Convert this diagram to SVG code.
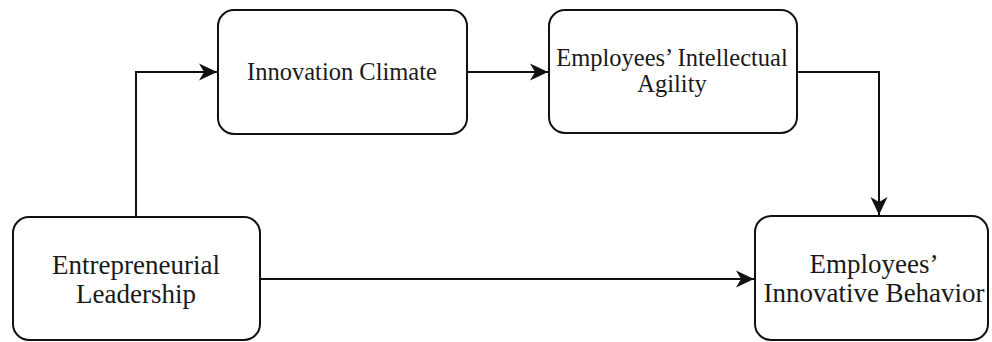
<svg xmlns="http://www.w3.org/2000/svg" width="992" height="342" viewBox="0 0 992 342">
<defs>
<style>
.box{fill:#fff;stroke:#111;stroke-width:2}
.t{font-family:'Liberation Serif','DejaVu Serif',serif;fill:#1a1a1a;text-anchor:middle}
.s24{font-size:24.5px}
.s27{font-size:27px}
.c{fill:none;stroke:#111;stroke-width:2}
</style>
<marker id="ah" viewBox="0 0 18 18" refX="18" refY="9" markerWidth="18" markerHeight="18" markerUnits="userSpaceOnUse" orient="auto">
<path d="M0,0.5 L18,9 L0,17.5 L5,9 Z" fill="#111"/>
</marker>
</defs>
<rect width="992" height="342" fill="#fff"/>
<g id="connectors">
<path class="c" d="M136,217 V72 H217" marker-end="url(#ah)"/>
<path class="c" d="M467,72 H548" marker-end="url(#ah)"/>
<path class="c" d="M797,72 H879 V215" marker-end="url(#ah)"/>
<path class="c" d="M260,279 H754" marker-end="url(#ah)"/>
</g>
<g id="entrepreneurial-leadership">
<rect class="box" x="13" y="217" width="247" height="123" rx="16"/>
<text class="t s27" x="136" y="274">Entrepreneurial</text>
<text class="t s27" x="136" y="303">Leadership</text>
</g>
<g id="innovation-climate">
<rect class="box" x="218" y="10" width="249" height="124" rx="16"/>
<text class="t s24" x="342" y="80">Innovation Climate</text>
</g>
<g id="intellectual-agility">
<rect class="box" x="549" y="10" width="248" height="123" rx="16"/>
<text class="t s24" x="672" y="66">Employees’ Intellectual</text>
<text class="t s24" x="672" y="92">Agility</text>
</g>
<g id="innovative-behavior">
<rect class="box" x="755" y="216" width="233" height="124" rx="16"/>
<text class="t s27" x="874" y="273">Employees’</text>
<text class="t s27" x="874" y="302">Innovative Behavior</text>
</g>
</svg>
